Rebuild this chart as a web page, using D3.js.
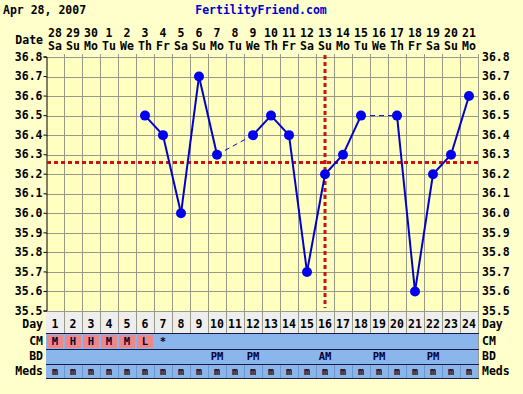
<!DOCTYPE html>
<html>
<head>
<meta charset="utf-8">
<script src="https://cdn.jsdelivr.net/npm/d3@7"></script>
<style>
  body { margin: 0; background: #ffffcc; }
  svg { display: block; }
  text { font-family: "DejaVu Sans Mono", monospace; font-weight: bold; font-size: 11.5px; fill: #000; }
</style>
</head>
<body>
<svg width="523" height="394"></svg>
<script>
// cycle data
var days = d3.range(1, 25);
var dates = ["28", "29", "30", "1", "2", "3", "4", "5", "6", "7", "8", "9",
  "10", "11", "12", "13", "14", "15", "16", "17", "18", "19", "20", "21"];
var weekdays = ["Sa", "Su", "Mo", "Tu", "We", "Th", "Fr", "Sa", "Su", "Mo", "Tu", "We",
  "Th", "Fr", "Sa", "Su", "Mo", "Tu", "We", "Th", "Fr", "Sa", "Su", "Mo"];
var temps = [null, null, null, null, null, 36.5, 36.4, 36.0, 36.7, 36.3, null, 36.4,
  36.5, 36.4, 35.7, 36.2, 36.3, 36.5, null, 36.5, 35.6, 36.2, 36.3, 36.6];
var cm = ["M", "H", "H", "M", "M", "L", "*", "", "", "", "", "",
  "", "", "", "", "", "", "", "", "", "", "", ""];
var bd = ["", "", "", "", "", "", "", "", "", "PM", "", "PM",
  "", "", "", "AM", "", "", "PM", "", "", "PM", "", ""];
var meds = days.map(function () { return "m"; });
var tempTicks = [35.5, 35.6, 35.7, 35.8, 35.9, 36.0, 36.1, 36.2, 36.3, 36.4, 36.5, 36.6, 36.7, 36.8];
var coverline = 36.26;
var ovulationDay = 16;

var svg = d3.select("svg");
var plotLeft = 46, plotRight = 478, plotTop = 57, plotBottom = 311;

var x = d3.scaleBand().domain(days).range([plotLeft, plotRight]);
var y = d3.scaleLinear().domain([35.5, 36.8]).range([plotBottom, plotTop]);
var cx = function (d) { return x(d) + x.bandwidth() / 2; };
var px = function (v) { return Math.round(v) + 0.5; };

// plot background
svg.append("rect").attr("x", plotLeft).attr("y", plotTop).attr("width", plotRight - plotLeft)
  .attr("height", plotBottom - plotTop).attr("fill", "#ffffc0");

// rows below the plot
var rows = [
  { name: "Day", y0: 311, y1: 333, fill: "#eeeeee", vals: days.map(String) },
  { name: "CM", y0: 333, y1: 349, fill: "#8ab6ec", vals: cm },
  { name: "BD", y0: 349, y1: 364, fill: "#8ab6ec", vals: bd },
  { name: "Meds", y0: 364, y1: 378, fill: "#8ab6ec", vals: meds }
];

rows.forEach(function (r) {
  svg.append("rect").attr("x", plotLeft).attr("y", r.y0).attr("width", plotRight - plotLeft)
    .attr("height", r.y1 - r.y0).attr("fill", r.fill);
});

// pink CM cells
svg.append("g").selectAll("rect")
  .data(days.filter(function (d) { return /[MHL]/.test(cm[d - 1]); }))
  .join("rect")
  .attr("x", function (d) { return x(d) + 1; })
  .attr("y", 335)
  .attr("width", x.bandwidth() - 2)
  .attr("height", 13)
  .attr("fill", "#ee8888");

// grid
var grid = svg.append("g").attr("stroke", "#999988").attr("stroke-width", 1);
grid.selectAll("line.h").data(tempTicks).join("line").attr("class", "h")
  .attr("x1", plotLeft).attr("x2", plotRight)
  .attr("y1", function (d) { return px(y(d)); }).attr("y2", function (d) { return px(y(d)); });
grid.selectAll("line.v").data(days.slice(1)).join("line").attr("class", "v")
  .attr("x1", function (d) { return px(x(d)); }).attr("x2", function (d) { return px(x(d)); })
  .attr("y1", plotTop - 3).attr("y2", 333);
grid.append("line").attr("x1", px(plotRight)).attr("x2", px(plotRight)).attr("y1", plotTop - 3).attr("y2", 378);

// column separators in the meds row
svg.append("g").selectAll("line").data(days.slice(1)).join("line")
  .attr("x1", function (d) { return px(x(d)); }).attr("x2", function (d) { return px(x(d)); })
  .attr("y1", 364).attr("y2", 378).attr("stroke", "#6f96c8");

// row dividers
svg.append("g").selectAll("line").data([333, 349, 364, 378]).join("line")
  .attr("x1", plotLeft).attr("x2", plotRight + 1)
  .attr("y1", function (d) { return d + 0.5; }).attr("y2", function (d) { return d + 0.5; })
  .attr("stroke", "#1a1a40").attr("stroke-width", 1.2);

// left axis with labels
var yAxis = d3.axisLeft(y).tickValues(tempTicks).tickFormat(d3.format(".1f")).tickSize(3).tickPadding(1);
var ax = svg.append("g").attr("transform", "translate(" + px(plotLeft) + ",-0.5)").call(yAxis);
ax.select(".domain").attr("stroke", "#000");
ax.selectAll("text").style("font-family", "DejaVu Sans Mono").style("font-size", "11.5px").attr("fill", "#000");

var yAxisR = d3.axisRight(y).tickValues(tempTicks).tickFormat(d3.format(".1f")).tickSize(0).tickPadding(4);
var axr = svg.append("g").attr("transform", "translate(" + plotRight + ",-0.5)").call(yAxisR);
axr.select(".domain").remove();
axr.selectAll("text").style("font-family", "DejaVu Sans Mono").style("font-size", "11.5px").attr("fill", "#000");

// coverline and ovulation line
svg.append("line").attr("x1", plotLeft + 1).attr("x2", plotRight)
  .attr("y1", y(coverline)).attr("y2", y(coverline))
  .attr("stroke", "#cc1111").attr("stroke-width", 3).attr("stroke-dasharray", "4,3");
svg.append("line").attr("x1", cx(ovulationDay)).attr("x2", cx(ovulationDay))
  .attr("y1", plotTop - 2).attr("y2", plotBottom - 3)
  .attr("stroke", "#cc1111").attr("stroke-width", 3).attr("stroke-dasharray", "4,3");

// temperature line: solid between neighbours, dashed across gaps
var pts = days.filter(function (d) { return temps[d - 1] != null; });
var segs = [];
for (var i = 1; i < pts.length; i++) {
  segs.push({ a: pts[i - 1], b: pts[i], gap: pts[i] - pts[i - 1] > 1 });
}
svg.append("g").selectAll("line").data(segs).join("line")
  .attr("x1", function (d) { return cx(d.a); })
  .attr("y1", function (d) { return y(temps[d.a - 1]); })
  .attr("x2", function (d) { return cx(d.b); })
  .attr("y2", function (d) { return y(temps[d.b - 1]); })
  .attr("stroke", "#0000cc")
  .attr("stroke-width", function (d) { return d.gap ? 1 : 2; })
  .attr("stroke-dasharray", function (d) { return d.gap ? "5,4" : null; });

svg.append("g").selectAll("circle").data(pts).join("circle")
  .attr("cx", cx)
  .attr("cy", function (d) { return y(temps[d - 1]); })
  .attr("r", 5)
  .attr("fill", "#0000ee");

// header
svg.append("text").attr("x", 3).attr("y", 14).text("Apr 28, 2007");
svg.append("text").attr("x", 261).attr("y", 14).attr("text-anchor", "middle")
  .style("fill", "#0000cc").text("FertilityFriend.com");
svg.append("text").attr("x", 43).attr("y", 44).attr("text-anchor", "end").text("Date");

svg.append("g").selectAll("text").data(days).join("text")
  .attr("x", cx).attr("y", 37).attr("text-anchor", "middle")
  .text(function (d) { return dates[d - 1]; });
svg.append("g").selectAll("text").data(days).join("text")
  .attr("x", cx).attr("y", 50).attr("text-anchor", "middle")
  .text(function (d) { return weekdays[d - 1]; });

// row labels and cell texts
var rowText = [
  { r: rows[0], base: 328, size: "11.5px" },
  { r: rows[1], base: 345, size: "10.5px" },
  { r: rows[2], base: 360, size: "10.5px" },
  { r: rows[3], base: 375, size: "10px" }
];
rowText.forEach(function (t) {
  svg.append("text").attr("x", 43).attr("y", t.base).attr("text-anchor", "end").text(t.r.name);
  svg.append("text").attr("x", 482).attr("y", t.base).text(t.r.name);
  svg.append("g").selectAll("text").data(days).join("text")
    .attr("x", cx).attr("y", t.base).attr("text-anchor", "middle")
    .style("font-size", t.size)
    .style("fill", t.r.name == "Day" ? "#000" : "#000033")
    .text(function (d) { return t.r.vals[d - 1]; });
});
</script>
</body>
</html>
